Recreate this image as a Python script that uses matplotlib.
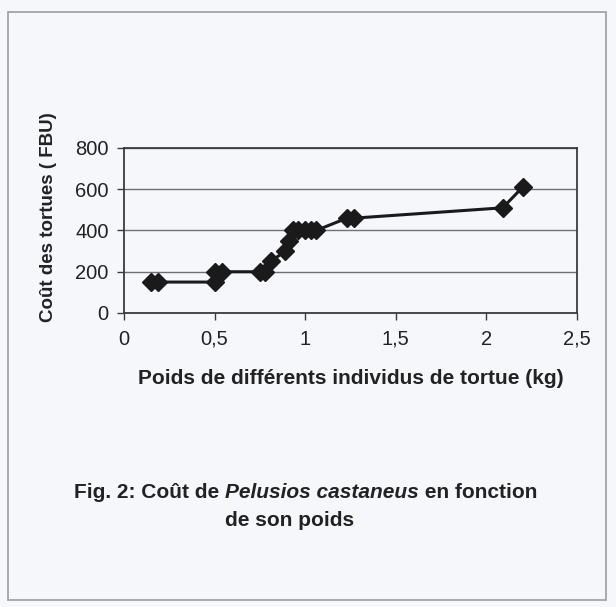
import matplotlib
matplotlib.use("Agg")
import matplotlib.pyplot as plt
from matplotlib.patches import Rectangle
from matplotlib.ticker import FixedLocator, FuncFormatter

# Data
weight_kg = [0.15, 0.19, 0.50, 0.50, 0.54, 0.75, 0.78, 0.81, 0.89, 0.91, 0.93,
             0.96, 1.00, 1.03, 1.06, 1.23, 1.27, 2.09, 2.20]
cost_fbu = [150, 150, 150, 200, 200, 200, 200, 250, 300, 350, 400,
            400, 400, 400, 400, 460, 460, 510, 610]
x_ticks = [0, 0.5, 1, 1.5, 2, 2.5]
y_ticks = [0, 200, 400, 600, 800]

plt.rcParams['font.family'] = ['Liberation Sans', 'DejaVu Sans']
W, H = 616, 607
bg = '#f6f7fb'
ink = '#222222'
fig = plt.figure(figsize=(W / 100, H / 100), dpi=100, facecolor=bg)

# outer page frame
fig.patches.append(Rectangle((8 / W, 1 - 600 / H), (606 - 8) / W, (600 - 12) / H,
                             transform=fig.transFigure, fill=False,
                             edgecolor='#9a9ca3', linewidth=1.2))

ax = fig.add_axes([124 / W, 1 - 313 / H, (577 - 124) / W, (313 - 148) / H])
ax.set_facecolor(bg)
ax.plot(weight_kg, cost_fbu, color='#1a1a1a', linewidth=2.2, marker='D',
        markersize=9.5, markerfacecolor='#1a1a1a', markeredgecolor='#1a1a1a', zorder=3)
ax.set_xlim(0, 2.5)
ax.set_ylim(0, 800)
ax.xaxis.set_major_locator(FixedLocator(x_ticks))
ax.yaxis.set_major_locator(FixedLocator(y_ticks))
ax.xaxis.set_major_formatter(FuncFormatter(lambda v, p: ('%g' % v).replace('.', ',')))
ax.yaxis.set_major_formatter(FuncFormatter(lambda v, p: '%d' % v))
ax.grid(axis='y', color='#6e7078', linewidth=1.0)
ax.set_axisbelow(True)
for s in ax.spines.values():
    s.set_color('#3a3a3f')
    s.set_linewidth(1.3)
ax.tick_params(axis='both', direction='out', length=5, width=1, color='#3a3a3f',
               labelsize=14.5, labelcolor=ink)
ax.tick_params(axis='x', pad=7)
ax.tick_params(axis='y', pad=6)

fig.text(351 / W, 1 - 378 / H, 'Poids de différents individus de tortue (kg)',
         ha='center', va='center', fontsize=15, fontweight='bold', color=ink)
fig.text(49 / W, 1 - 217 / H, 'Coût des tortues ( FBU)', rotation=90,
         ha='center', va='center', fontsize=13.5, fontweight='bold', color=ink)

# Caption with mixed italic, composed piece by piece
fig.canvas.draw()
r = fig.canvas.get_renderer()
parts = [('Fig. 2: Coût de ', 'normal'), ('Pelusios castaneus', 'italic'),
         (' en fonction', 'normal')]
y1 = 1 - 493 / H
texts = []
for s, st in parts:
    t = fig.text(0, y1, s, fontsize=15, fontweight='bold', style=st,
                 ha='left', va='center', color=ink)
    texts.append(t)
widths = [t.get_window_extent(r).width for t in texts]
total = sum(widths)
x = 306 - total / 2
for t, w in zip(texts, widths):
    t.set_x(x / W)
    x += w
fig.text(290 / W, 1 - 520 / H, 'de son poids', fontsize=15, fontweight='bold',
         ha='center', va='center', color=ink)

fig.savefig('out.png', dpi=100, facecolor=bg)
